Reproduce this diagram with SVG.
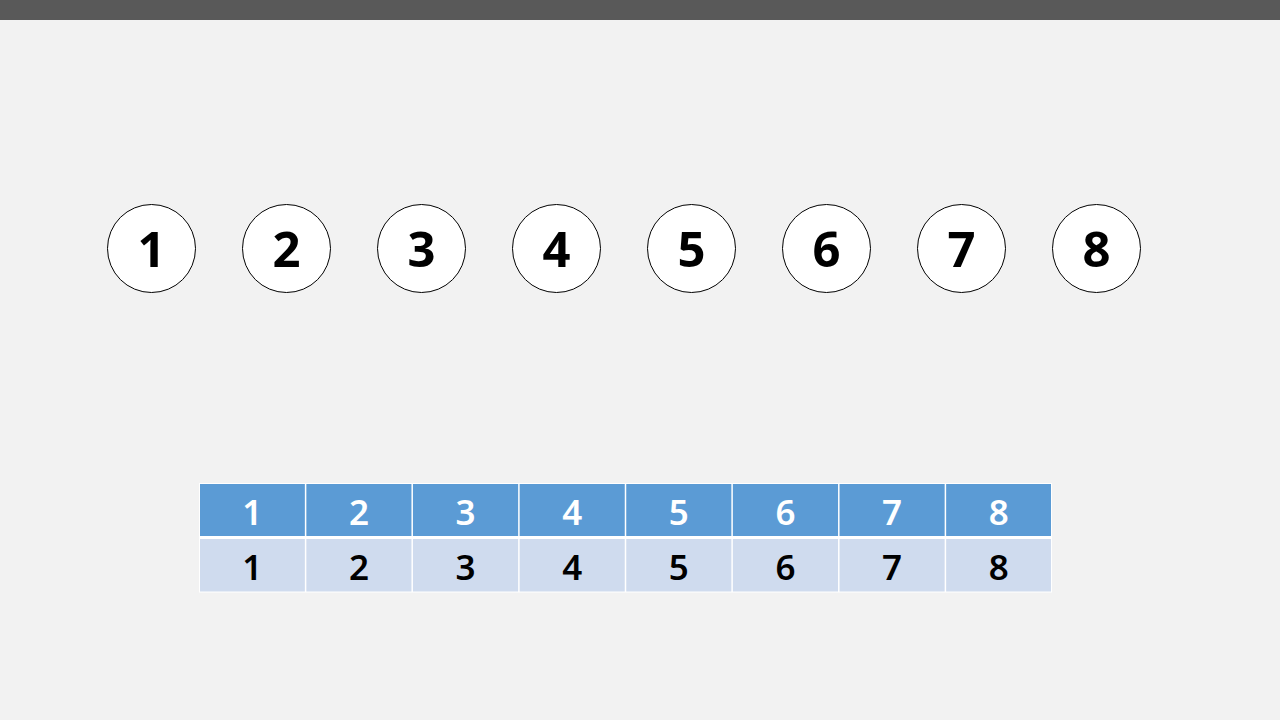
<svg xmlns="http://www.w3.org/2000/svg" width="1280" height="720" viewBox="0 0 1280 720">
<style>
.node circle{fill:#ffffff;stroke:#000000;stroke-width:1}
.node text{font-family:"Noto Sans","Open Sans","DejaVu Sans",sans-serif;font-size:49px;font-weight:bold;fill:#000000;text-anchor:middle}
.hd{fill:#5b9bd5}
.bd{fill:#cfdbee}
.th{font-family:"Noto Sans","Open Sans","DejaVu Sans",sans-serif;font-size:35px;font-weight:600;fill:#ffffff;text-anchor:middle}
.tb{font-family:"Noto Sans","Open Sans","DejaVu Sans",sans-serif;font-size:35px;font-weight:600;fill:#000000;text-anchor:middle}
.grid{stroke:#ffffff;fill:none}
</style>
<rect x="0" y="0" width="1280" height="720" fill="#f2f2f2"/>
<rect x="0" y="0" width="1280" height="20" fill="#595959"/>
<g id="node1" class="node"><circle cx="151.5" cy="248.5" r="44"/><text x="151.5" y="266.5">1</text></g>
<g id="node2" class="node"><circle cx="286.5" cy="248.5" r="44"/><text x="286.5" y="266.5">2</text></g>
<g id="node3" class="node"><circle cx="421.5" cy="248.5" r="44"/><text x="421.5" y="266.5">3</text></g>
<g id="node4" class="node"><circle cx="556.5" cy="248.5" r="44"/><text x="556.5" y="266.5">4</text></g>
<g id="node5" class="node"><circle cx="691.5" cy="248.5" r="44"/><text x="691.5" y="266.5">5</text></g>
<g id="node6" class="node"><circle cx="826.5" cy="248.5" r="44"/><text x="826.5" y="266.5">6</text></g>
<g id="node7" class="node"><circle cx="961.5" cy="248.5" r="44"/><text x="961.5" y="266.5">7</text></g>
<g id="node8" class="node"><circle cx="1096.5" cy="248.5" r="44"/><text x="1096.5" y="266.5">8</text></g>
<g id="connectors"></g>
<g id="table">
<rect class="hd" x="199" y="484" width="853" height="53"/>
<rect class="bd" x="199" y="538" width="853" height="54"/>
<g class="grid">
<rect x="199.5" y="483.5" width="852" height="108.5" stroke-width="1"/>
<line x1="199" y1="537.5" x2="1052" y2="537.5" stroke-width="3"/>
<line x1="305.6" y1="484" x2="305.6" y2="592" stroke-width="1.5"/>
<line x1="412.2" y1="484" x2="412.2" y2="592" stroke-width="1.5"/>
<line x1="518.9" y1="484" x2="518.9" y2="592" stroke-width="1.5"/>
<line x1="625.5" y1="484" x2="625.5" y2="592" stroke-width="1.5"/>
<line x1="732.1" y1="484" x2="732.1" y2="592" stroke-width="1.5"/>
<line x1="838.8" y1="484" x2="838.8" y2="592" stroke-width="1.5"/>
<line x1="945.4" y1="484" x2="945.4" y2="592" stroke-width="1.5"/>
</g>
<text class="th" x="252.3" y="525">1</text>
<text class="th" x="358.9" y="525">2</text>
<text class="th" x="465.6" y="525">3</text>
<text class="th" x="572.2" y="525">4</text>
<text class="th" x="678.8" y="525">5</text>
<text class="th" x="785.4" y="525">6</text>
<text class="th" x="892.1" y="525">7</text>
<text class="th" x="998.7" y="525">8</text>
<text class="tb" x="252.3" y="580">1</text>
<text class="tb" x="358.9" y="580">2</text>
<text class="tb" x="465.6" y="580">3</text>
<text class="tb" x="572.2" y="580">4</text>
<text class="tb" x="678.8" y="580">5</text>
<text class="tb" x="785.4" y="580">6</text>
<text class="tb" x="892.1" y="580">7</text>
<text class="tb" x="998.7" y="580">8</text>
</g>
</svg>
